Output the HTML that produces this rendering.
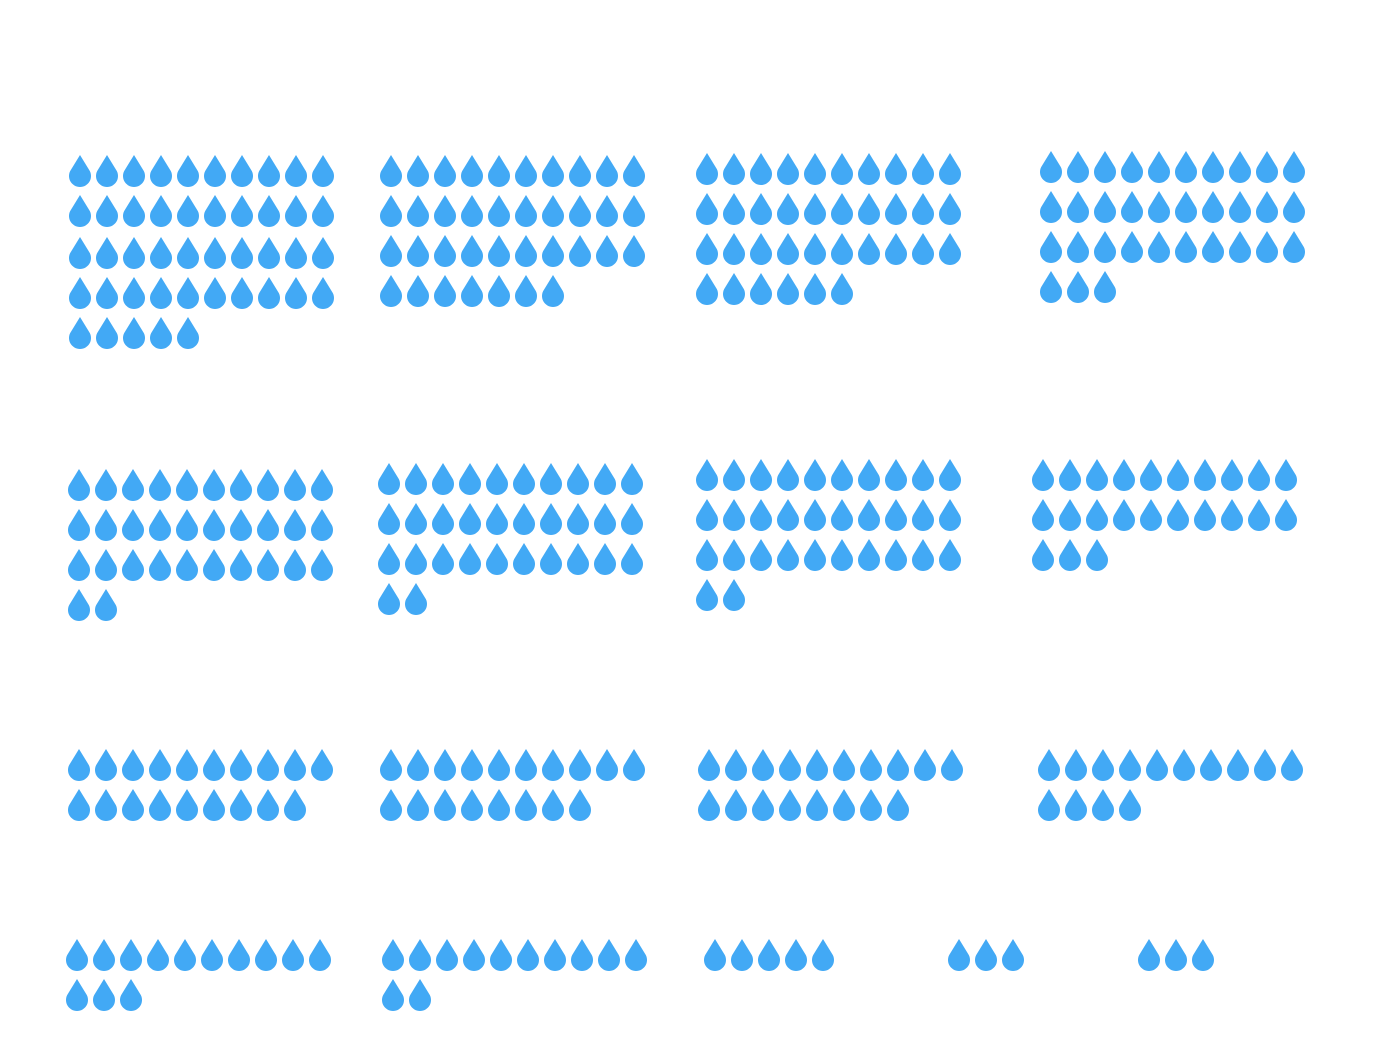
<!DOCTYPE html>
<html><head><meta charset="utf-8"><style>
html,body{margin:0;padding:0;background:#fff;}
svg{display:block;}
</style></head><body>
<svg id="s" width="1380" height="1056" viewBox="0 0 1380 1056" xmlns="http://www.w3.org/2000/svg">
<defs><path id="d" d="M0 -16 L-9.8 0 A11 11 0 1 0 9.8 0 Z" fill="#42a9f5"/></defs>
<g id="g"></g>
</svg>
<script>
var groups=[
[80,[155,195,237,277,317],[10,10,10,10,5]],
[391,[155,195,235,275],[10,10,10,7]],
[707,[153,193,233,273],[10,10,10,6]],
[1051,[151,191,231,271],[10,10,10,3]],
[79,[469,509,549,589],[10,10,10,2]],
[389,[463,503,543,583],[10,10,10,2]],
[707,[459,499,539,579],[10,10,10,2]],
[1043,[459,499,539],[10,10,3]],
[79,[749,789],[10,9]],
[391,[749,789],[10,8]],
[709,[749,789],[10,8]],
[1049,[749,789],[10,4]],
[77,[939,979],[10,3]],
[393,[939,979],[10,2]],
[715,[939],[5]],
[959,[939],[3]],
[1149,[939],[3]]
];
var ns="http://www.w3.org/2000/svg",g=document.getElementById("g");
groups.forEach(function(gr){
 gr[1].forEach(function(top,r){
  for(var i=0;i<gr[2][r];i++){
   var u=document.createElementNS(ns,"use");
   u.setAttribute("href","#d");
   u.setAttribute("x",gr[0]+27*i);
   u.setAttribute("y",top+16);
   g.appendChild(u);
  }
 });
});
</script>
</body></html>
